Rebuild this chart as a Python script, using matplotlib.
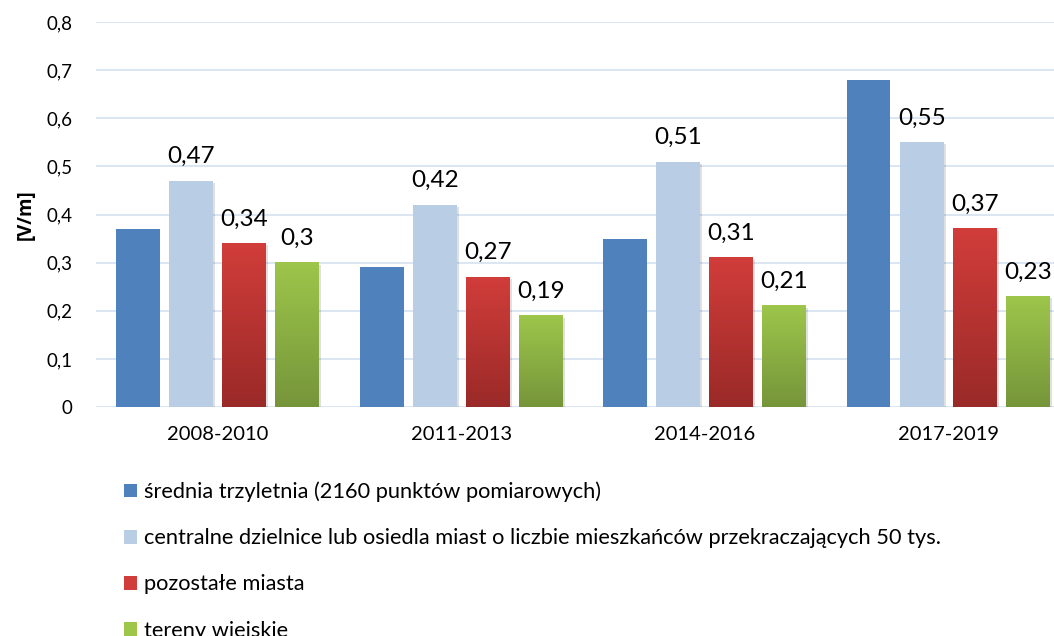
import matplotlib

matplotlib.use("Agg")
import matplotlib.pyplot as plt
import numpy as np
from matplotlib.colors import LinearSegmentedColormap
from matplotlib.patches import Patch

plt.rcParams["font.family"] = ["Lato", "DejaVu Sans"]

periods = ["2008-2010", "2011-2013", "2014-2016", "2017-2019"]
series_names = [
    "średnia trzyletnia (2160 punktów pomiarowych)",
    "centralne dzielnice lub osiedla miast o liczbie mieszkańców przekraczających 50 tys.",
    "pozostałe miasta",
    "tereny wiejskie",
]
avg_values = [0.37, 0.29, 0.35, 0.68]
central_values = [0.47, 0.42, 0.51, 0.55]
towns_values = [0.34, 0.27, 0.31, 0.37]
rural_values = [0.30, 0.19, 0.21, 0.23]
y_ticks = [0, 0.1, 0.2, 0.3, 0.4, 0.5, 0.6, 0.7, 0.8]

# (bottom colour, top colour) per series; equal pairs mean a flat fill
fills = [
    ("#4F81BD", "#4F81BD"),
    ("#B9CDE5", "#B9CDE5"),
    ("#9A2A28", "#D13D3A"),
    ("#76953A", "#9DC64B"),
]
show_labels = [False, True, True, True]


def fmt(v):
    return f"{v:g}".replace(".", ",")


fig = plt.figure(figsize=(10.54, 6.36), dpi=100)
ax = fig.add_axes([0.0911, 0.360, 0.924, 0.6053])

x = np.arange(len(periods))
width = 0.18
step = 0.218
all_values = [avg_values, central_values, towns_values, rural_values]

for i, (vals, (c_bot, c_top), lab) in enumerate(zip(all_values, fills, show_labels)):
    pos = x + (i - 1.5) * step
    if i > 0:
        # soft drop shadow under the lighter bars
        ax.bar(pos + 0.008, vals, width, bottom=-0.004, color="#000000",
               alpha=0.12, zorder=2, linewidth=0)
    bars = ax.bar(pos, vals, width, color=c_top, zorder=3, linewidth=0)
    if c_bot != c_top:
        cmap = LinearSegmentedColormap.from_list(f"g{i}", [c_bot, c_top])
        grad = np.linspace(0, 1, 256).reshape(-1, 1)
        for b in bars:
            x0, y0 = b.get_x(), b.get_y()
            ax.imshow(grad, cmap=cmap, origin="lower", aspect="auto",
                      extent=[x0, x0 + b.get_width(), y0, y0 + b.get_height()],
                      zorder=3.5)
    if lab:
        for p, v in zip(pos, vals):
            ax.annotate(fmt(v), (p, v), xytext=(0, 10), textcoords="offset points",
                        ha="center", va="bottom", fontsize=17.5, color="#000000")

ax.set_xlim(-0.5, 3.5)
ax.set_ylim(0, 0.8)
ax.set_yticks(y_ticks)
ax.set_yticklabels([fmt(t) for t in y_ticks], fontsize=13.5)
ax.set_xticks(x)
ax.set_xticklabels(periods, fontsize=14.5)
ax.tick_params(length=0)
ax.tick_params(axis="y", pad=17)
ax.tick_params(axis="x", pad=14)
ax.yaxis.grid(True, color="#D5E1F0", linewidth=1.2, zorder=0)
ax.set_axisbelow(True)
for s in ax.spines.values():
    s.set_visible(False)
ax.set_ylabel("[V/m]", fontsize=13.5, fontweight="bold",
              family=["Open Sans", "DejaVu Sans"])
ax.yaxis.set_label_coords(-0.062, 0.5)

handles = [Patch(facecolor=c_top, edgecolor="none") for _, c_top in fills]
fig.legend(handles, series_names, loc="upper left", bbox_to_anchor=(0.107, 0.26),
           frameon=False, fontsize=15.7, handlelength=0.6, handleheight=0.6,
           handletextpad=0.35, labelspacing=1.2, borderpad=0)

fig.savefig("out.png", dpi=100)
